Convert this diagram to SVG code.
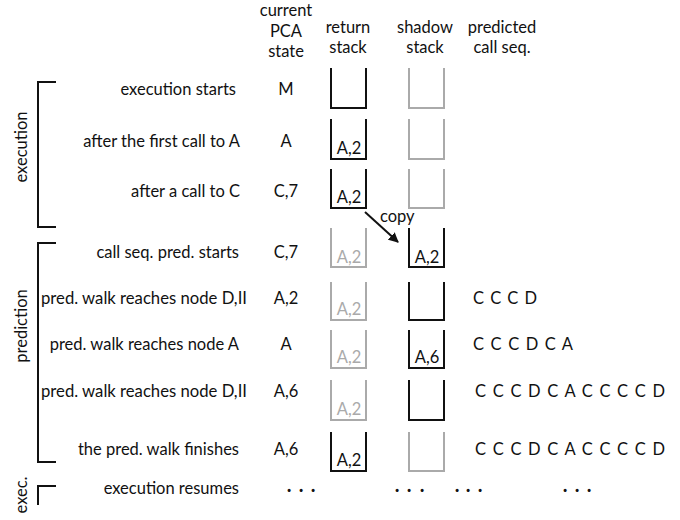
<svg xmlns="http://www.w3.org/2000/svg" width="680" height="520" viewBox="0 0 680 520">
  <style>
    text { font-family: Lato, "Open Sans", "Liberation Sans", sans-serif; font-size: 16.5px; fill: #111; }
    .hd { text-anchor: middle; }
    .lbl { text-anchor: end; }
    .lbl-wide { text-anchor: start; }
    .st { text-anchor: middle; }
    .side { text-anchor: middle; }
    .seq { text-anchor: start; }
    .dots { text-anchor: middle; font-size: 20px; font-weight: bold; }
    .box { fill: none; stroke: #111; stroke-width: 2; }
    .box.off { stroke: #aaa; }
    .in { text-anchor: middle; }
    .in.off { fill: #aaa; }
    .brk { fill: none; stroke: #111; stroke-width: 2; }
    .arrow { fill: none; stroke: #111; stroke-width: 2; }
  </style>
  <defs>
    <marker id="head" viewBox="0 0 10 10" refX="9" refY="5" markerWidth="5" markerHeight="5" orient="auto">
      <path d="M0,0 L10,5 L0,10 z" fill="#111"/>
    </marker>
  </defs>

  <!-- column headings -->
  <g id="headings">
    <text class="hd" x="286" y="16">current</text>
    <text class="hd" x="286" y="37">PCA</text>
    <text class="hd" x="286" y="57">state</text>
    <text class="hd" x="348" y="33">return</text>
    <text class="hd" x="348" y="53">stack</text>
    <text class="hd" x="425" y="33">shadow</text>
    <text class="hd" x="425" y="53">stack</text>
    <text class="hd" x="502" y="33">predicted</text>
    <text class="hd" x="502" y="53">call seq.</text>
  </g>

  <!-- phase brackets -->
  <g id="phase-execution">
    <path class="brk" d="M56,82 H38 V227 H56"/>
    <text class="side" transform="translate(27,147) rotate(-90)">execution</text>
  </g>
  <g id="phase-prediction">
    <path class="brk" d="M56,243 H38 V462 H56"/>
    <text class="side" transform="translate(27,326) rotate(-90)">prediction</text>
  </g>
  <g id="phase-exec">
    <path class="brk" d="M56,486 H38 V505"/>
    <text class="side" transform="translate(27,495) rotate(-90)">exec.</text>
  </g>

  <!-- row 1 -->
  <g id="row-1">
    <text class="lbl" x="236" y="95">execution starts</text>
    <text class="st" x="286" y="95">M</text>
    <path class="box" d="M331,68 V108 H366 V68"/>
    <path class="box off" d="M409,68 V108 H444 V68"/>
  </g>

  <!-- row 2 -->
  <g id="row-2">
    <text class="lbl" x="240" y="147">after the first call to A</text>
    <text class="st" x="286" y="147">A</text>
    <path class="box" d="M331,119 V159 H366 V119"/>
    <text class="in" x="349" y="154">A,2</text>
    <path class="box off" d="M409,119 V159 H444 V119"/>
  </g>

  <!-- row 3 -->
  <g id="row-3">
    <text class="lbl" x="240" y="197">after a call to C</text>
    <text class="st" x="286" y="197">C,7</text>
    <path class="box" d="M331,169 V208 H366 V169"/>
    <text class="in" x="349" y="203">A,2</text>
    <path class="box off" d="M409,169 V208 H444 V169"/>
  </g>

  <!-- row 4 -->
  <g id="row-4">
    <text class="lbl" x="239" y="258">call seq. pred. starts</text>
    <text class="st" x="286" y="258">C,7</text>
    <path class="box off" d="M331,228 V267 H366 V228"/>
    <text class="in off" x="349" y="263">A,2</text>
    <path class="box" d="M409,228 V267 H444 V228"/>
    <text class="in" x="427" y="263">A,2</text>
  </g>

  <!-- row 5 -->
  <g id="row-5">
    <text class="lbl-wide" x="41" y="304" textLength="206" lengthAdjust="spacingAndGlyphs">pred. walk reaches node D,II</text>
    <text class="st" x="286" y="304">A,2</text>
    <path class="box off" d="M331,282 V320 H366 V282"/>
    <text class="in off" x="349" y="315">A,2</text>
    <path class="box" d="M409,282 V320 H444 V282"/>
    <text class="seq" x="473" y="304" textLength="64" lengthAdjust="spacing">C C C D</text>
  </g>

  <!-- row 6 -->
  <g id="row-6">
    <text class="lbl" x="239" y="350">pred. walk reaches node A</text>
    <text class="st" x="286" y="350">A</text>
    <path class="box off" d="M331,330 V368 H366 V330"/>
    <text class="in off" x="349" y="363">A,2</text>
    <path class="box" d="M409,330 V368 H444 V330"/>
    <text class="in" x="427" y="363">A,6</text>
    <text class="seq" x="473" y="350" textLength="100" lengthAdjust="spacing">C C C D C A</text>
  </g>

  <!-- row 7 -->
  <g id="row-7">
    <text class="lbl-wide" x="41" y="397" textLength="206" lengthAdjust="spacingAndGlyphs">pred. walk reaches node D,II</text>
    <text class="st" x="286" y="397">A,6</text>
    <path class="box off" d="M331,380 V420 H366 V380"/>
    <text class="in off" x="349" y="415">A,2</text>
    <path class="box" d="M409,380 V420 H444 V380"/>
    <text class="seq" x="475" y="397" textLength="190" lengthAdjust="spacing">C C C D C A C C C C D</text>
  </g>

  <!-- row 8 -->
  <g id="row-8">
    <text class="lbl" x="239" y="455">the pred. walk finishes</text>
    <text class="st" x="286" y="455">A,6</text>
    <path class="box" d="M331,432 V471 H366 V432"/>
    <text class="in" x="349" y="466">A,2</text>
    <path class="box off" d="M409,432 V471 H444 V432"/>
    <text class="seq" x="475" y="455" textLength="190" lengthAdjust="spacing">C C C D C A C C C C D</text>
  </g>

  <!-- row 9 -->
  <g id="row-9">
    <text class="lbl" x="239" y="494">execution resumes</text>
    <text class="dots" x="289 301 313" y="492">...</text>
    <text class="dots" x="397 409 422" y="492">...</text>
    <text class="dots" x="457 468 480" y="492">...</text>
    <text class="dots" x="565 577 589" y="492">...</text>
  </g>

  <!-- connectors -->
  <g id="connectors">
    <line class="arrow" x1="365" y1="212" x2="398" y2="242" marker-end="url(#head)"/>
    <text x="380" y="222">copy</text>
  </g>
</svg>
